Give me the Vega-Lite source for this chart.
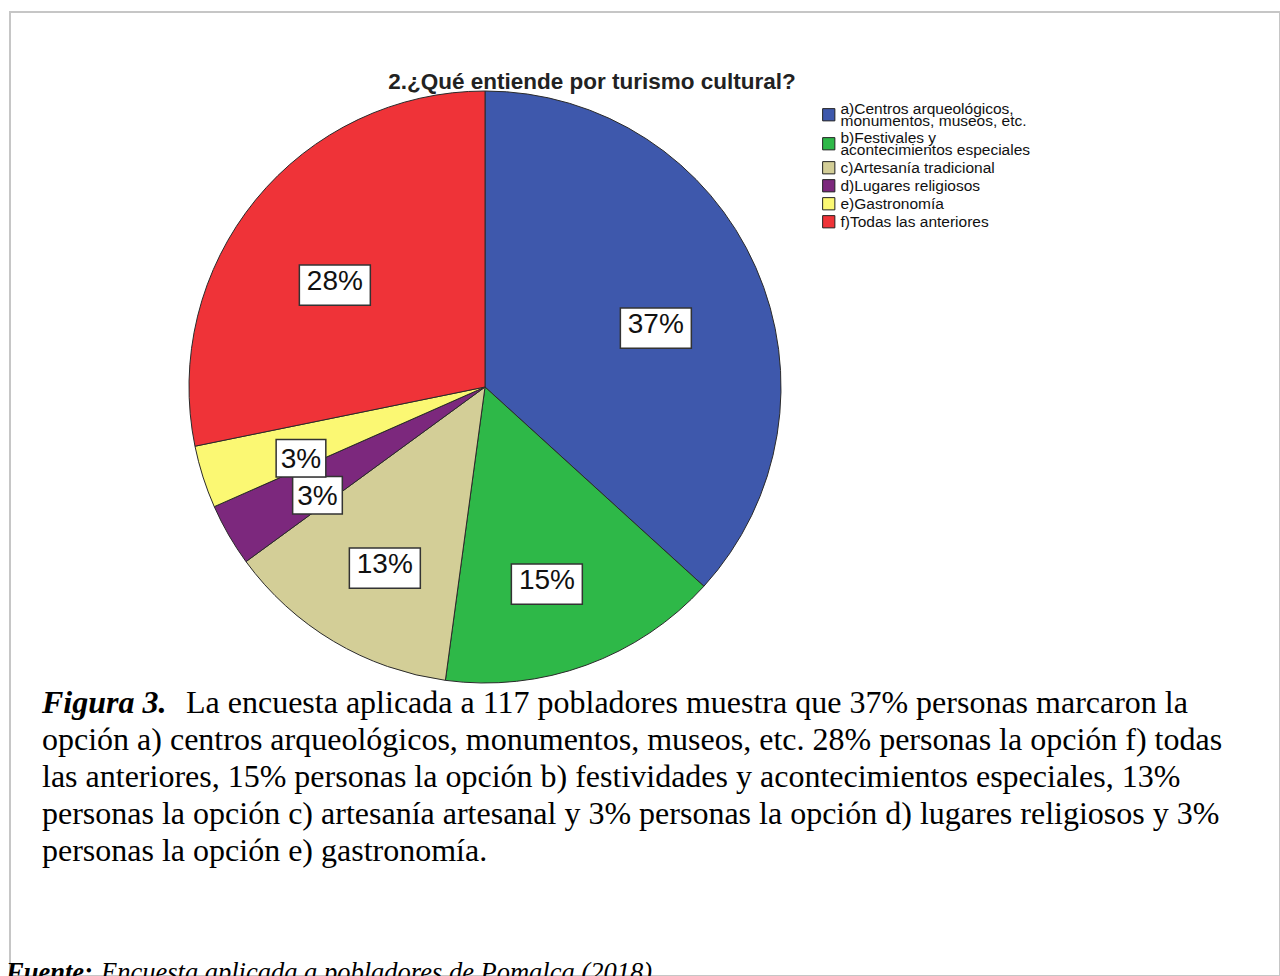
{
  "$schema": "https://vega.github.io/schema/vega-lite/v6.json",
  "width": 1270,
  "height": 964,
  "autosize": {"type": "none"},
  "padding": {"left": 10, "top": 12, "right": 0, "bottom": 0},
  "background": "white",
  "config": {"view": {"stroke": "#c6c6c6", "strokeWidth": 2}},
  "datasets": {
    "resp": [
      {"category": "a)Centros arqueológicos, monumentos, museos, etc.", "count": 43, "share": 0.37},
      {"category": "b)Festivales y acontecimientos especiales", "count": 18, "share": 0.15},
      {"category": "c)Artesanía tradicional", "count": 15, "share": 0.13},
      {"category": "d)Lugares religiosos", "count": 4, "share": 0.03},
      {"category": "e)Gastronomía", "count": 4, "share": 0.03},
      {"category": "f)Todas las anteriores", "count": 33, "share": 0.28}
    ]
  },
  "layer": [
    {
      "data": {"name": "resp"},
      "mark": {"type": "arc", "outerRadius": 296, "stroke": "#2a2a2a", "strokeWidth": 1},
      "encoding": {
        "theta": {"field": "count", "type": "quantitative", "stack": true},
        "order": {"field": "category", "type": "nominal", "sort": "ascending"},
        "color": {
          "field": "category",
          "type": "nominal",
          "scale": {
            "domain": ["a)Centros arqueológicos, monumentos, museos, etc.", "b)Festivales y acontecimientos especiales", "c)Artesanía tradicional", "d)Lugares religiosos", "e)Gastronomía", "f)Todas las anteriores"],
            "range": ["#3E58AC", "#2EB848", "#D3CE97", "#7C287D", "#FBF873", "#EF3338"]
          },
          "legend": {
            "title": null,
            "orient": "none",
            "legendX": 811,
            "legendY": 95,
            "symbolType": "square",
            "symbolSize": 150,
            "symbolStrokeColor": "#222",
            "symbolStrokeWidth": 1,
            "symbolOpacity": 1,
            "labelFont": "Liberation Sans",
            "labelFontSize": 15.5,
            "labelColor": "#111",
            "labelOffset": 4,
            "labelLimit": 0,
            "rowPadding": 0,
            "encode": {"labels": {"update": {"lineHeight": {"value": 12.5}, "dy": {"signal": "(datum.label == 'a)Centros arqueológicos, monumentos, museos, etc.' || datum.label == 'b)Festivales y acontecimientos especiales') ? -6 : 0"}}}},
            "labelExpr": "datum.label == 'a)Centros arqueológicos, monumentos, museos, etc.' ? ['a)Centros arqueológicos,', 'monumentos, museos, etc.'] : datum.label == 'b)Festivales y acontecimientos especiales' ? ['b)Festivales y', 'acontecimientos especiales'] : datum.label"
          }
        },
        "x": {"value": 475},
        "y": {"value": 375}
      }
    },
    {
      "data": {"name": "resp"},
      "mark": {"type": "text", "radius": 190, "font": "DejaVu Sans", "color": "#ffffff", "stroke": "#333333", "strokeWidth": 1.5, "align": "center", "baseline": "alphabetic", "dy": 1},
      "encoding": {
        "theta": {"field": "count", "type": "quantitative", "stack": true},
        "order": {"field": "category", "type": "nominal", "sort": "ascending"},
        "detail": {"field": "category", "type": "nominal"},
        "text": {"condition": {"test": "datum.share < 0.1", "value": "▄"}, "value": "▃"},
        "size": {"condition": {"test": "datum.share < 0.1", "value": 63}, "value": 90},
        "x": {"value": 472},
        "y": {"value": 390}
      }
    },
    {
      "data": {"name": "resp"},
      "mark": {"type": "text", "radius": 190, "font": "Liberation Sans", "fontSize": 28, "color": "#111", "align": "center", "baseline": "middle"},
      "encoding": {
        "theta": {"field": "count", "type": "quantitative", "stack": true},
        "order": {"field": "category", "type": "nominal", "sort": "ascending"},
        "detail": {"field": "category", "type": "nominal"},
        "text": {"field": "share", "type": "quantitative", "format": ".0%"},
        "x": {"value": 472},
        "y": {"value": 390}
      }
    },
    {
      "data": {"values": [{}]},
      "mark": {"type": "text", "text": "2.¿Qué entiende por turismo cultural?", "x": 582, "y": 77, "font": "Liberation Sans", "fontWeight": "bold", "fontSize": 22.5, "color": "#222", "align": "center", "baseline": "alphabetic"},
      "encoding": {}
    },
    {
      "data": {"values": [{}]},
      "mark": {"type": "text", "text": "Figura 3.", "x": 32, "y": 701, "font": "Liberation Serif", "fontWeight": "bold", "fontStyle": "italic", "fontSize": 32, "color": "#000", "align": "left", "baseline": "alphabetic"},
      "encoding": {}
    },
    {
      "data": {"values": [{}]},
      "mark": {"type": "text", "text": "La encuesta aplicada a 117 pobladores muestra que 37% personas marcaron la", "x": 176, "y": 701, "font": "Liberation Serif", "fontSize": 32, "color": "#000", "align": "left", "baseline": "alphabetic"},
      "encoding": {}
    },
    {
      "data": {"values": [{}]},
      "mark": {"type": "text", "text": ["opción a) centros arqueológicos, monumentos, museos, etc. 28% personas la opción f) todas", "las anteriores, 15% personas la opción b) festividades y acontecimientos especiales, 13%", "personas la opción c) artesanía artesanal y 3% personas la opción d) lugares religiosos y 3%", "personas la opción e) gastronomía."], "x": 32, "y": 738, "lineHeight": 37, "font": "Liberation Serif", "fontSize": 32, "color": "#000", "align": "left", "baseline": "alphabetic"},
      "encoding": {}
    },
    {
      "data": {"values": [{}]},
      "mark": {"type": "text", "text": "Fuente:", "x": -4, "y": 969, "font": "Liberation Serif", "fontWeight": "bold", "fontStyle": "italic", "fontSize": 26.5, "color": "#000", "align": "left", "baseline": "alphabetic"},
      "encoding": {}
    },
    {
      "data": {"values": [{}]},
      "mark": {"type": "text", "text": "Encuesta aplicada a pobladores de Pomalca (2018).", "x": 91, "y": 969, "font": "Liberation Serif", "fontStyle": "italic", "fontSize": 26.5, "color": "#000", "align": "left", "baseline": "alphabetic"},
      "encoding": {}
    }
  ]
}
